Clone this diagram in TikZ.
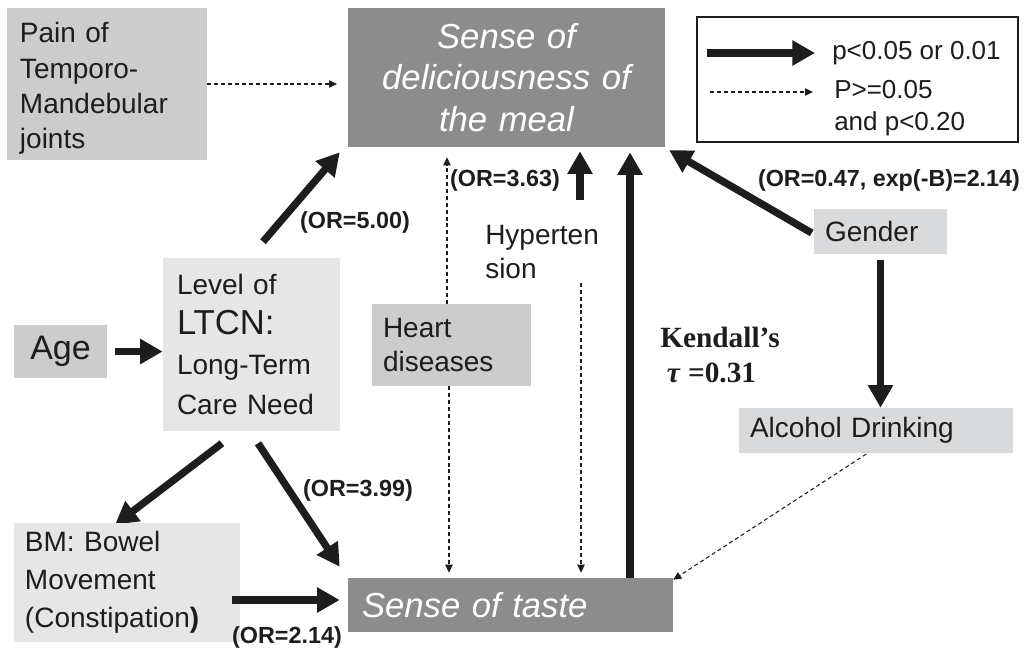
\documentclass[tikz,border=0pt]{standalone}
\usepackage{fontspec}
\setmainfont{Liberation Sans}
\newfontfamily\kfont{Liberation Serif}
\usetikzlibrary{arrows.meta,calc}
\pgfdeclarelayer{bg}
\pgfsetlayers{bg,main}
\definecolor{dkbox}{HTML}{8C8C8C}
\definecolor{mdbox}{HTML}{CCCCCC}
\definecolor{ltbox}{HTML}{D9DADC}
\definecolor{vlbox}{HTML}{E6E6E6}
\definecolor{ink}{HTML}{1E1C1D}
\begin{document}
\begin{tikzpicture}[x=0.75pt,y=-0.75pt,
  box/.style={rectangle, inner ysep=0pt, align=left, anchor=center, text=ink},
  thk/.style={line width=5.5pt, draw=ink, -{Triangle[length=17pt,width=18pt]}},
  dsh/.style={line width=0.8pt, draw=ink, dash pattern=on 3pt off 2.2pt, -{Triangle[length=6pt,width=5.5pt]}},
  lab/.style={font=\fontsize{17.5}{20}\selectfont\bfseries, inner sep=0pt, text=ink},
  base/.style={font=\fontsize{21}{#1}\selectfont},
]
\useasboundingbox (0,0) rectangle (1029,647);
\begin{pgfonlayer}{bg}
\fill[white] (0,0) rectangle (1029,647);
\end{pgfonlayer}

% boxes
\node[box, fill=mdbox, minimum width=150pt, minimum height=114pt, inner xsep=9.75pt, text width=130.5pt, base=26.5pt] (pain) at (107,84) {\\[-4.5pt]Pain of\\Temporo-\\Mandebular\\joints};
\node[box, fill=dkbox, minimum width=237.75pt, minimum height=104.25pt, inner xsep=5pt, text width=227.75pt, align=center, text=white, font=\fontsize{26}{31}\selectfont\itshape] (meal) at (506.5,77.5) {Sense of\\deliciousness of\\the meal};
\node[box, draw=ink, line width=1.5pt, minimum width=240.75pt, minimum height=93.75pt] (legend) at (857.5,79.5) {};
\node[box, fill=ltbox, minimum width=99.75pt, minimum height=33.75pt, inner xsep=8.25pt, text width=83.25pt, base=25pt] (gender) at (880.5,231.5) {Gender};
\node[box, fill=ltbox, minimum width=205.5pt, minimum height=33.75pt, inner xsep=8.25pt, text width=189pt, base=25pt] (alcohol) at (876,430.5) {Alcohol Drinking};
\node[box, fill=dkbox, minimum width=243.75pt, minimum height=40.5pt, inner xsep=10.5pt, text width=222.75pt, text=white, font=\fontsize{26}{31}\selectfont\itshape] (taste) at (510.5,605) {Sense of taste};
\node[box, fill=mdbox, minimum width=119.25pt, minimum height=61.5pt, inner xsep=8.25pt, text width=102.75pt, base=26pt] (heart) at (451.5,345) {Heart\\diseases};
\node[box, fill=vlbox, minimum width=132.75pt, minimum height=129.75pt, inner xsep=10.5pt, text width=111.75pt, base=30pt] (ltcn) at (251.5,344.5) {Level of\\{\fontsize{26}{30}\selectfont LTCN:}\\Long-Term\\Care Need};
\node[box, fill=mdbox, minimum width=69.75pt, minimum height=39.75pt, align=center, font=\fontsize{25.5}{30}\selectfont] (age) at (60.5,351.5) {Age};
\node[box, fill=vlbox, minimum width=169.5pt, minimum height=89.25pt, inner xsep=8.25pt, text width=153pt, base=28.5pt] (bm) at (127,582.5) {BM: Bowel\\Movement\\(Constipation\textbf{)}};
\node[anchor=west, inner sep=0pt, align=left, base=26pt, text=ink] (hyper) at (485,252) {Hyperten\\sion};

% legend content
\coordinate (l1s) at (707,53);
\coordinate (l1e) at (815,53);
\coordinate (l2s) at (710,92);
\coordinate (l2e) at (813,92);
\node[anchor=west, inner sep=0pt, font=\fontsize{19.5}{23}\selectfont, text=ink] (l1t) at (832,53) {p<0.05 or 0.01};
\node[anchor=west, inner sep=0pt, align=left, font=\fontsize{19.5}{23.5}\selectfont, text=ink] (l2t) at (834,108) {P>=0.05\\and p<0.20};

% labels
\node[lab] (or500) at (355,222) {(OR=5.00)};
\node[lab] (or363) at (505,180) {(OR=3.63)};
\node[lab] (or047) at (889,180) {(OR=0.47, exp(-B)=2.14)};
\node[lab] (or399) at (358,490) {(OR=3.99)};
\node[lab] (or214) at (287,637) {(OR=2.14)};
\node[anchor=west, inner sep=0pt, align=left, text=ink, font=\kfont\bfseries\fontsize{22}{26.5}\selectfont] (kendall) at (660,355) {Kendall’s\\\hspace*{5pt}\textit{τ} =0.31};

\draw[thk] ($(bm.east)+(-8,17.5)$) -- ($(taste.west)+(-8,-5)$);

\begin{pgfonlayer}{bg}
\draw[thk] (l1s) -- (l1e);
\draw[dsh] (l2s) -- (l2e);
\draw[dsh, shorten >=8pt] (pain.east) -- (pain.east -| meal.west);
\draw[thk] ($(ltcn.north)+(11.5,-16)$) -- ($(meal.south west)+(-8,5)$);
\draw[thk, shorten <=6pt] (age.east) -- (age.east -| ltcn.west);
\draw[thk] ($(ltcn.south)+(-29.5,12)$) -- ($(bm.north)+(-12,2)$);
\draw[thk] ($(ltcn.south)+(6.5,12)$) -- ($(taste.north west)+(-8,-11)$);
\draw[thk] ($(meal.south)+(73.5,53)$) -- ($(meal.south)+(73.5,4)$);
\draw[thk] ($(taste.north)+(119.5,0)$) -- ($(meal.south)+(123.5,5)$);
\draw[thk] ($(gender.west)+(-2,1.5)$) -- ($(meal.south east)+(4,3)$);
\draw[thk, shorten <=4pt] (gender.south) -- (gender.south |- alcohol.north);
\draw[dsh] ($(alcohol.south)+(-4,-3)$) -- ($(taste.north east)+(0,2)$);
\draw[dsh] ($(heart.north)+(-4.5,0)$) -- ($(meal.south)+(-59.5,10)$);
\draw[dsh] ($(heart.south)+(-2.5,0)$) -- ($(taste.north)+(-61.5,-5)$);
\draw[dsh] ($(taste.north)+(70.5,-295)$) -- ($(taste.north)+(70.5,-5)$);
\end{pgfonlayer}
\end{tikzpicture}
\end{document}
